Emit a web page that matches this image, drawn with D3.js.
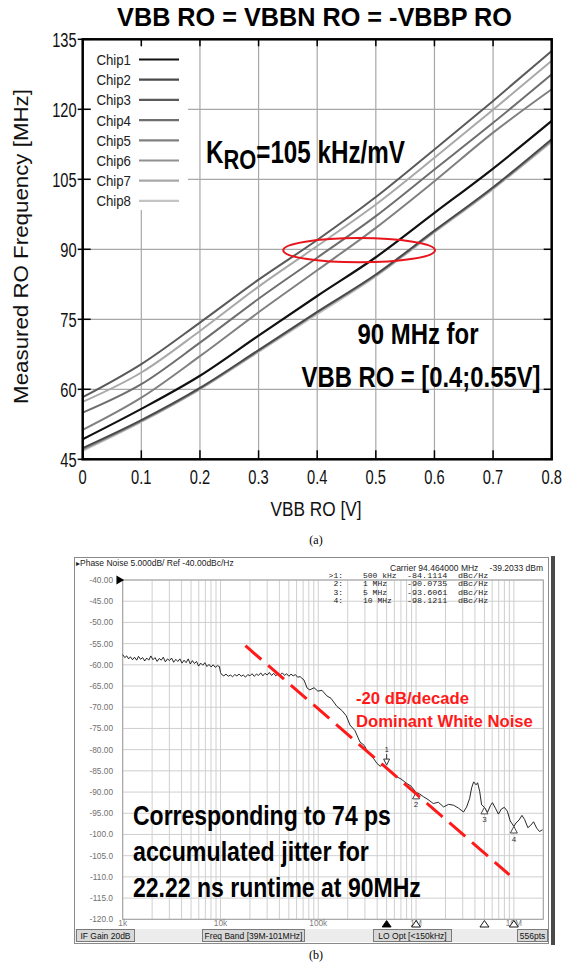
<!DOCTYPE html>
<html>
<head>
<meta charset="utf-8">
<title>RO frequency vs VBB and phase noise</title>
<script src="https://cdnjs.cloudflare.com/ajax/libs/d3/7.8.5/d3.min.js"></script>
<style>
body { margin: 0; background: #fff; }
svg { display: block; }
.sans { font-family: "Liberation Sans", Arial, sans-serif; }
.cap { font-family: "Liberation Serif", "DejaVu Serif", serif; font-size: 12px; }
.mono { font-family: "Liberation Mono", "DejaVu Sans Mono", monospace; }
</style>
</head>
<body>
<svg id="fig" width="574" height="972"></svg>
<script>
// ---------- (a) measured RO frequency vs back bias ----------
var vbb = [0, 0.1, 0.2, 0.3, 0.4, 0.5, 0.6, 0.7, 0.8];
var chipNames = ["Chip1", "Chip2", "Chip3", "Chip4", "Chip5", "Chip6", "Chip7", "Chip8"];
var chip1 = [49.3, 55.8, 62.9, 71.5, 80.0, 88.3, 97.8, 107.3, 117.5];
var chip2 = [47.4, 53.4, 60.3, 68.4, 76.6, 84.6, 94.0, 103.3, 113.6];
var chip3 = [58.3, 65.4, 74.3, 83.5, 92.0, 101.2, 111.4, 121.8, 132.5];
var chip4 = [55.0, 61.1, 70.0, 79.4, 88.2, 97.1, 107.1, 117.1, 127.5];
var chip5 = [51.3, 58.2, 67.1, 76.5, 85.5, 94.6, 104.6, 115.0, 124.3];
var chip6 = [47.1, 53.2, 60.1, 68.2, 76.4, 84.4, 93.8, 103.1, 113.3];
var chip7 = [57.3, 63.6, 72.5, 82.0, 90.7, 99.6, 109.6, 119.9, 130.4];
var chip8 = [46.8, 53.0, 60.0, 68.0, 76.1, 84.2, 93.6, 102.9, 113.0];
var chipSeries = [chip1, chip2, chip3, chip4, chip5, chip6, chip7, chip8];
var xTicksA = [0, 0.1, 0.2, 0.3, 0.4, 0.5, 0.6, 0.7, 0.8];
var yTicksA = [45, 60, 75, 90, 105, 120, 135];
// highlighted window around 90 MHz
var windowV = [0.342, 0.601];
var windowF = [87.2, 92.4];

// ---------- (b) phase noise screenshot ----------
var pnTrace = [
  [1000,-57.6],[1050,-58.3],[1100,-57.9],[1150,-58.6],[1200,-58.1],[1260,-58.8],[1320,-58.2],[1390,-58.9],
  [1450,-58.0],[1520,-58.7],[1600,-58.3],[1680,-59.1],[1760,-58.4],[1850,-58.9],[1940,-57.9],[2040,-58.8],
  [2140,-58.3],[2250,-59.2],[2360,-58.5],[2480,-58.9],[2600,-58.2],[2730,-59.3],[2870,-58.6],[3010,-59.0],
  [3160,-58.4],[3320,-59.4],[3490,-58.7],[3660,-59.2],[3850,-58.6],[4040,-59.6],[4240,-58.9],[4450,-59.5],
  [4680,-58.6],[4910,-59.8],[5160,-59.0],[5420,-59.7],[5690,-59.2],[5970,-60.3],[6270,-59.6],[6590,-60.1],
  [6920,-59.5],[7270,-60.4],[7630,-59.9],[8010,-60.5],[8420,-60.0],[8840,-60.6],[9280,-60.2],[9750,-60.4],
  [10000,-61.8],[10300,-62.3],[10800,-62.6],[11400,-62.2],[12000,-62.7],[12600,-62.4],[13300,-62.8],[14000,-62.3],
  [14700,-62.6],[15500,-62.2],[16300,-62.7],[17100,-62.4],[18000,-62.9],[19000,-62.3],[20000,-62.6],[21000,-62.1],
  [22100,-62.7],[23300,-62.2],[24500,-62.5],[25800,-61.9],[27100,-62.6],[28500,-62.0],[30000,-62.4],[31600,-61.8],
  [33300,-62.5],[35000,-62.0],[36800,-62.6],[38800,-62.1],[40800,-62.4],[42900,-61.9],[45200,-62.5],[47500,-62.1],
  [50000,-62.7],[52600,-62.2],[55400,-62.6],[58300,-62.3],[61400,-62.9],[65300,-62.8],[71500,-63.6],[77000,-65.5],
  [82000,-65.9],[90500,-65.4],[99000,-66.2],[109000,-66.0],[122000,-67.3],[135000,-67.9],[155000,-69.8],[175000,-70.8],
  [193000,-72.0],[211000,-74.2],[237000,-75.5],[267000,-78.2],[295000,-79.0],[316000,-80.3],[355000,-81.6],[400000,-83.3],
  [430000,-83.9],[461000,-83.6],[500000,-84.1],[543000,-84.9],[633000,-86.4],[700000,-86.9],[806000,-88.0],[889000,-88.6],
  [1000000,-90.1],[1080000,-90.4],[1190000,-91.1],[1330000,-91.8],[1500000,-92.7],[1690000,-92.4],[1910000,-93.5],[2150000,-92.9],
  [2420000,-93.1],[2720000,-93.8],[3060000,-94.7],[3290000,-93.5],[3530000,-91.5],[3700000,-89.0],[3880000,-87.6],[4110000,-88.3],
  [4260000,-87.8],[4470000,-89.8],[4680000,-93.0],[5000000,-93.6],[5370000,-94.8],[5760000,-93.2],[6040000,-92.5],[6480000,-93.8],
  [6950000,-95.2],[7450000,-94.0],[7990000,-93.6],[8570000,-94.5],[9180000,-96.8],[10000000,-98.1],[10500000,-97.3],[11300000,-96.6],
  [12100000,-95.5],[12900000,-96.5],[13900000,-98.4],[14900000,-97.8],[15900000,-97.0],[17100000,-98.5],[18300000,-99.3],[19600000,-98.9]
];
var pnYTicks = [-40, -45, -50, -55, -60, -65, -70, -75, -80, -85, -90, -95, -100, -105, -110, -115, -120];
var pnYLabels = ["-40.00", "-45.00", "-50.00", "-55.00", "-60.00", "-65.00", "-70.00", "-75.00", "-80.00",
                 "-85.00", "-90.00", "-95.00", "-100.0", "-105.0", "-110.0", "-115.0", "-120.0"];
var decadeFreq = [1e3, 1e4, 1e5, 1e6, 1e7];
var decadeLabels = ["1k", "10k", "100k", "1M", "10M"];
var markerIds = ["1", "2", "3", "4"];
var markerFreq = [5e5, 1e6, 5e6, 1e7];
var markerLevel = [-84.1114, -90.0735, -93.6061, -98.1211];
var markerRows = [
  [">1:", "500 kHz", "-84.1114", "dBc/Hz"],
  ["2:", "1 MHz", "-90.0735", "dBc/Hz"],
  ["3:", "5 MHz", "-93.6061", "dBc/Hz"],
  ["4:", "10 MHz", "-98.1211", "dBc/Hz"]
];
var slopeFreq = [18000, 9000000];
var slopeLevel = [-55.5, -109.5];
var jitterLines = ["Corresponding to 74 ps", "accumulated jitter for", "22.22 ns runtime at 90MHz"];
var statusText = ["IF Gain 20dB", "Freq Band [39M-101MHz]", "LO Opt [<150kHz]", "556pts"];

var svg = d3.select("#fig");

// text helper: condensed look is made by squeezing Liberation Sans horizontally
function say(parent, x, y, s, size, o) {
  o = o || {};
  var t = parent.append("text").attr("class", o.cls || "sans")
    .style("font-size", size + "px").style("font-weight", o.bold ? "bold" : null)
    .attr("text-anchor", o.anchor || "start").attr("fill", o.fill || "#000");
  if (s != null) t.text(s);
  if (o.build) o.build(t);
  var k = o.width ? o.width / t.node().getComputedTextLength() : (o.sx || 1);
  t.attr("transform", "translate(" + x + "," + y + ")" + (o.rot ? " rotate(" + o.rot + ")" : "") + " scale(" + k + ",1)");
  return t;
}

// ================= panel (a) =================
var xA = d3.scaleLinear().domain([0, 0.8]).range([82.7, 551.7]);
var yA = d3.scaleLinear().domain([45, 135]).range([459.3, 39.3]);
var gA = svg.append("g");

say(gA, 314.5, 26, "VBB RO = VBBN RO = -VBBP RO", 26, { bold: true, anchor: "middle", width: 395 });

// grid
gA.selectAll(".vg").data(xTicksA.slice(1, -1)).join("line")
  .attr("x1", d => xA(d)).attr("x2", d => xA(d))
  .attr("y1", yA(135)).attr("y2", yA(45))
  .attr("stroke", "#a8a8a8").attr("stroke-width", 1.2);
gA.selectAll(".hg").data(yTicksA.slice(1, -1)).join("line")
  .attr("x1", xA(0)).attr("x2", xA(0.8))
  .attr("y1", d => yA(d)).attr("y2", d => yA(d))
  .attr("stroke", "#a8a8a8").attr("stroke-width", 1.2);

// legend box hides the grid
gA.append("rect").attr("x", 91).attr("y", 46).attr("width", 97).attr("height", 164).attr("fill", "#fff");

// ticks
gA.selectAll(".tb").data(xTicksA).join("line")
  .attr("x1", d => xA(d)).attr("x2", d => xA(d))
  .attr("y1", yA(45)).attr("y2", yA(45) - 9).attr("stroke", "#000").attr("stroke-width", 1.5);
gA.selectAll(".tt").data(xTicksA).join("line")
  .attr("x1", d => xA(d)).attr("x2", d => xA(d))
  .attr("y1", yA(135)).attr("y2", yA(135) + 7).attr("stroke", "#000").attr("stroke-width", 1.5);
gA.selectAll(".tl").data(yTicksA).join("line")
  .attr("x1", xA(0) - 5).attr("x2", xA(0) + 8)
  .attr("y1", d => yA(d)).attr("y2", d => yA(d)).attr("stroke", "#000").attr("stroke-width", 1.5);
gA.selectAll(".tr").data(yTicksA).join("line")
  .attr("x1", xA(0.8) - 8).attr("x2", xA(0.8))
  .attr("y1", d => yA(d)).attr("y2", d => yA(d)).attr("stroke", "#000").attr("stroke-width", 1.5);

// tick labels
xTicksA.forEach(function (d) {
  say(gA, xA(d), yA(45) + 25, String(d), 21, { anchor: "middle", sx: 0.7, fill: "#111" });
});
yTicksA.forEach(function (d) {
  say(gA, xA(0) - 6, yA(d) + 7.5, String(d), 21, { anchor: "end", sx: 0.7, fill: "#111" });
});

say(gA, 316, 516, "VBB RO [V]", 21, { anchor: "middle", width: 91, fill: "#111" });
say(gA, 27.5, 246.5, "Measured RO Frequency [MHz]", 21, { anchor: "middle", width: 315, rot: -90, fill: "#111" });

// curves
var chipColors = ["#111", "#4a4a4a", "#5a5a5a", "#6e6e6e", "#808080", "#909090", "#a8a8a8", "#c4c4c4"];
var lineA = d3.line().x((d, i) => xA(vbb[i])).y(d => yA(d)).curve(d3.curveMonotoneX);
var drawOrder = [7, 6, 5, 4, 3, 2, 1, 0];
gA.selectAll(".chip").data(drawOrder).join("path")
  .attr("d", k => lineA(chipSeries[k])).attr("fill", "none")
  .attr("stroke", k => chipColors[k]).attr("stroke-width", k => k === 0 ? 2.2 : 2);

// legend
chipNames.forEach(function (name, i) {
  var cy = 59.5 + i * 20.2;
  say(gA, 131, cy + 5.5, name, 15.4, { anchor: "end", sx: 0.86, fill: "#222" });
  gA.append("line").attr("x1", 139).attr("x2", 179).attr("y1", cy).attr("y2", cy)
    .attr("stroke", chipColors[i]).attr("stroke-width", 2.2);
});

// frame
gA.append("rect").attr("x", xA(0)).attr("y", yA(135))
  .attr("width", xA(0.8) - xA(0)).attr("height", yA(45) - yA(135))
  .attr("fill", "none").attr("stroke", "#000").attr("stroke-width", 2.5);

// annotations
gA.append("ellipse")
  .attr("cx", (xA(windowV[0]) + xA(windowV[1])) / 2).attr("cy", (yA(windowF[0]) + yA(windowF[1])) / 2)
  .attr("rx", (xA(windowV[1]) - xA(windowV[0])) / 2).attr("ry", (yA(windowF[0]) - yA(windowF[1])) / 2)
  .attr("fill", "none").attr("stroke", "#e8141c").attr("stroke-width", 2);

say(gA, 206, 163, null, 31, { bold: true, width: 199, build: function (t) {
  t.append("tspan").text("K");
  t.append("tspan").attr("dy", 6).style("font-size", "28px").text("RO");
  t.append("tspan").attr("dy", -6).text("=105 kHz/mV");
} });
say(gA, 418, 344, "90 MHz for", 30, { bold: true, anchor: "middle", width: 121 });
say(gA, 421, 387, "VBB RO = [0.4;0.55V]", 30, { bold: true, anchor: "middle", width: 239 });

svg.append("text").attr("class", "cap").attr("x", 316).attr("y", 544).attr("text-anchor", "middle").text("(a)");

// ================= panel (b) =================
var xB = d3.scaleLog().domain([1e3, 2e7]).range([122.7, 543.3]);
var yB = d3.scaleLinear().domain([-120, -40]).range([919.3, 580]);
var gB = svg.append("g").attr("class", "sans");

gB.append("rect").attr("x", 74.5).attr("y", 557.5).attr("width", 474).attr("height", 386)
  .attr("fill", "#fff").attr("stroke", "#8a8a8a").attr("stroke-width", 1);
gB.append("rect").attr("x", 551).attr("y", 556).attr("width", 4).attr("height", 389).attr("fill", "#4a4a4a");

say(gB, 76, 566, "\u25B8Phase Noise 5.000dB/ Ref -40.00dBc/Hz", 8.5, { fill: "#222", width: 159 });
say(gB, 390, 571, "Carrier 94.464000 MHz", 8.5, { fill: "#222" });
say(gB, 543, 571, "-39.2033 dBm", 8.5, { fill: "#222", anchor: "end" });

// log graticule
var fTicks = xB.ticks();
gB.selectAll(".fg").data(fTicks).join("line")
  .attr("x1", d => xB(d)).attr("x2", d => xB(d)).attr("y1", yB(-40)).attr("y2", yB(-120))
  .attr("stroke", "#cfcfcf").attr("stroke-width", 1);
gB.selectAll(".lg").data(pnYTicks).join("line")
  .attr("x1", xB(1e3)).attr("x2", xB(2e7)).attr("y1", d => yB(d)).attr("y2", d => yB(d))
  .attr("stroke", "#cfcfcf").attr("stroke-width", 1);
gB.append("rect").attr("x", xB(1e3)).attr("y", yB(-40)).attr("width", xB(2e7) - xB(1e3)).attr("height", yB(-120) - yB(-40))
  .attr("fill", "none").attr("stroke", "#a0a0a0").attr("stroke-width", 1);

pnYTicks.forEach(function (d, i) {
  say(gB, 113, yB(d) + 3, pnYLabels[i], 8.3, { anchor: "end", fill: "#707070" });
});
gB.append("path").attr("d", d3.symbol(d3.symbolTriangle, 34)())
  .attr("transform", "translate(119," + yB(-40) + ") rotate(90)").attr("fill", "#000");

decadeFreq.forEach(function (d, i) {
  say(gB, xB(d), 926, decadeLabels[i], 8.3, { anchor: "middle", fill: "#808080" });
});

// marker table
markerRows.forEach(function (r, i) {
  var by = 578 + i * 8.4;
  say(gB, 343, by, r[0], 8, { cls: "mono", anchor: "end", fill: "#222" });
  say(gB, 363, by, r[1], 8, { cls: "mono", fill: "#222" });
  say(gB, 407, by, r[2], 8, { cls: "mono", fill: "#222", sx: 1.05 });
  say(gB, 458, by, r[3], 8, { cls: "mono", fill: "#222", sx: 1.05 });
});

// trace
var lineB = d3.line().x(d => xB(d[0])).y(d => yB(d[1]));
gB.append("path").attr("d", lineB(pnTrace)).attr("fill", "none").attr("stroke", "#111").attr("stroke-width", 0.9);

// markers on the trace and on the frequency axis
markerFreq.forEach(function (f, i) {
  var mx = xB(f), my = yB(markerLevel[i]);
  if (i === 0) {
    gB.append("path").attr("d", "M" + mx + "," + (my - 2) + "l-3,-6h6z").attr("fill", "#fff").attr("stroke", "#333");
    gB.append("line").attr("x1", mx).attr("x2", mx).attr("y1", my - 8).attr("y2", my - 13).attr("stroke", "#333");
    say(gB, mx, my - 15, markerIds[i], 8, { anchor: "middle", fill: "#333" });
  } else {
    gB.append("path").attr("d", "M" + mx + "," + my + "l-3.5,6.5h7z").attr("fill", "#fff").attr("stroke", "#333").attr("stroke-width", 0.9);
    say(gB, mx, my + 15, markerIds[i], 8, { anchor: "middle", fill: "#333" });
  }
  gB.append("path").attr("d", "M" + mx + ",920.5l-4.5,6.5h9z")
    .attr("fill", i === 0 ? "#000" : "#fff").attr("stroke", "#000").attr("stroke-width", 0.9);
});

// -20 dB/decade guide
gB.append("line").attr("x1", xB(slopeFreq[0])).attr("y1", yB(slopeLevel[0]))
  .attr("x2", xB(slopeFreq[1])).attr("y2", yB(slopeLevel[1]))
  .attr("stroke", "#ff1a1a").attr("stroke-width", 3).attr("stroke-dasharray", "21 9");

say(gB, 356, 704, "-20 dB/decade", 17, { bold: true, fill: "#ff1a1a", width: 113 });
say(gB, 356, 727, "Dominant White Noise", 17, { bold: true, fill: "#ff1a1a", width: 177 });

var jitterWidth = [258, 236, 288];
jitterLines.forEach(function (s, i) {
  say(gB, 133, 825 + i * 36, s, 27, { bold: true, width: jitterWidth[i] });
});

// status bar
var statusBox = [[76, 135], [202, 305], [373, 452], [517, 548]];
gB.append("rect").attr("x", 75).attr("y", 929).attr("width", 473).attr("height", 13).attr("fill", "#ececec");
statusText.forEach(function (s, i) {
  var b = statusBox[i];
  gB.append("rect").attr("x", b[0] + 0.5).attr("y", 929.5).attr("width", b[1] - b[0] - 1).attr("height", 12)
    .attr("fill", "#d8d8d8").attr("stroke", "#7a7a7a").attr("stroke-width", 1);
  say(gB, (b[0] + b[1]) / 2, 938.6, s, 8.5, { anchor: "middle", fill: "#111" });
});

svg.append("text").attr("class", "cap").attr("x", 316).attr("y", 959).attr("text-anchor", "middle").text("(b)");
</script>
</body>
</html>
